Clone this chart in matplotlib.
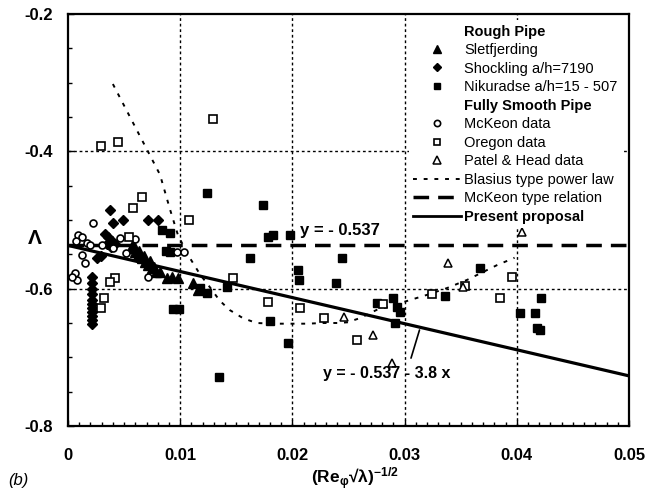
import matplotlib
matplotlib.use("Agg")
import matplotlib.pyplot as plt
from matplotlib.lines import Line2D
import numpy as np

plt.rcParams['font.family'] = ['Liberation Sans', 'DejaVu Sans']
plt.rcParams['mathtext.fontset'] = 'custom'
plt.rcParams['mathtext.rm'] = 'Liberation Sans:bold'
plt.rcParams['mathtext.it'] = 'Liberation Sans:bold'
plt.rcParams['mathtext.bf'] = 'Liberation Sans:bold'
plt.rcParams['mathtext.default'] = 'rm'

# ---------------- data ----------------
slet_x = [0.0057, 0.0060, 0.0062, 0.0066, 0.0069, 0.0071, 0.0075, 0.0078, 0.0082,
          0.0058, 0.0063, 0.0068, 0.0073, 0.0077, 0.0088, 0.0093, 0.0098, 0.0111, 0.0116]
slet_y = [-0.541, -0.547, -0.551, -0.555, -0.561, -0.565, -0.570, -0.576, -0.576,
          -0.535, -0.545, -0.552, -0.560, -0.568, -0.585, -0.583, -0.585, -0.592, -0.602]

shock_x = [0.0021] * 11 + [0.0037, 0.0040, 0.0049, 0.0071, 0.0080,
                           0.0033, 0.0036, 0.0039, 0.0042, 0.0038, 0.0035, 0.0026, 0.0029]
shock_y = [-0.583, -0.592, -0.600, -0.608, -0.616, -0.622, -0.628, -0.634, -0.640, -0.646, -0.652,
           -0.485, -0.504, -0.500, -0.500, -0.500,
           -0.520, -0.525, -0.530, -0.535, -0.540, -0.535, -0.555, -0.552]

niku_x = [0.0124, 0.0174, 0.0178, 0.0183, 0.0198, 0.0162, 0.0244, 0.0205, 0.0206, 0.0239,
          0.0142, 0.0124, 0.0118, 0.0180, 0.0196, 0.0135, 0.0275, 0.0290, 0.0293, 0.0296,
          0.0291, 0.0336, 0.0367, 0.0403, 0.0416, 0.0422, 0.0418, 0.0421, 0.0084, 0.0091,
          0.0087, 0.0091, 0.0094, 0.0099]
niku_y = [-0.461, -0.478, -0.525, -0.522, -0.522, -0.555, -0.555, -0.573, -0.587, -0.592,
          -0.597, -0.606, -0.599, -0.647, -0.679, -0.729, -0.621, -0.614, -0.627, -0.634,
          -0.650, -0.611, -0.570, -0.636, -0.636, -0.614, -0.657, -0.660, -0.515, -0.519,
          -0.545, -0.547, -0.630, -0.630]

mck_x = [0.0009, 0.00125, 0.0017, 0.0020, 0.00125, 0.0015, 0.0006, 0.0008, 0.0004, 0.0022,
         0.0046, 0.0040, 0.0052, 0.0030, 0.0071, 0.0097, 0.0103, 0.0060, 0.0007]
mck_y = [-0.522, -0.525, -0.534, -0.536, -0.551, -0.563, -0.577, -0.587, -0.583, -0.504,
         -0.526, -0.541, -0.548, -0.537, -0.583, -0.546, -0.546, -0.527, -0.530]

oreg_x = [0.0129, 0.0066, 0.0058, 0.0108, 0.0054, 0.0042, 0.0037, 0.0032, 0.0029, 0.0147,
          0.0178, 0.0207, 0.0228, 0.0258, 0.0324, 0.0354, 0.0385, 0.0396, 0.0281, 0.0029, 0.0045]
oreg_y = [-0.353, -0.466, -0.483, -0.500, -0.525, -0.584, -0.590, -0.614, -0.628, -0.585,
          -0.619, -0.628, -0.643, -0.675, -0.608, -0.596, -0.614, -0.583, -0.622, -0.392, -0.386]

patel_x = [0.0246, 0.0272, 0.0339, 0.0352, 0.0405, 0.0289]
patel_y = [-0.641, -0.667, -0.563, -0.597, -0.517, -0.708]

blas_x = [0.0040, 0.0082, 0.0091, 0.0098, 0.0107, 0.0118, 0.0127, 0.0135, 0.0144, 0.0156,
          0.0168, 0.0183, 0.0198, 0.0213, 0.0227, 0.0240, 0.0249, 0.0260, 0.0275, 0.0284,
          0.0300, 0.0320, 0.0338, 0.0356, 0.0382, 0.0398]
blas_y = [-0.302, -0.434, -0.485, -0.522, -0.551, -0.580, -0.599, -0.617, -0.631, -0.643,
          -0.650, -0.651, -0.651, -0.651, -0.650, -0.650, -0.649, -0.643, -0.631, -0.627,
          -0.619, -0.609, -0.599, -0.587, -0.566, -0.555]

lambda0 = -0.537
slope = -3.8
x_range = [0.0, 0.05]

# ---------------- figure ----------------
fig = plt.figure(figsize=(6.45, 4.93), dpi=100)
ax = fig.add_axes([68 / 645, 1 - 426 / 493, 561 / 645, 412 / 493])

ax.set_xlim(0, 0.05)
ax.set_ylim(-0.8, -0.2)

# grid
for gx in [0.01, 0.02, 0.03, 0.04]:
    ax.axvline(gx, color='black', lw=1.0, ls=(0, (2, 2)), zorder=1)
for gy in [-0.4, -0.6]:
    ax.axhline(gy, color='black', lw=1.0, ls=(0, (2, 2)), zorder=1)

# lines
xs = np.array(x_range)
ax.plot(xs, [lambda0, lambda0], color='black', lw=2.5, ls=(0, (4.5, 2.6)), zorder=2)
ax.plot(xs, lambda0 + slope * xs, color='black', lw=2.3, zorder=2)
ax.plot(blas_x, blas_y, color='black', lw=1.4, ls=(0, (2, 3.5)), zorder=2)

# markers
ax.plot(slet_x, slet_y, ls='none', marker='^', ms=6.5, color='black', zorder=3)
ax.plot(shock_x, shock_y, ls='none', marker='D', ms=5, color='black', zorder=3)
ax.plot(niku_x, niku_y, ls='none', marker='s', ms=5.5, color='black', zorder=3)
ax.plot(mck_x, mck_y, ls='none', marker='o', ms=5, mfc='white', mec='black', mew=1.2, zorder=3)
ax.plot(oreg_x, oreg_y, ls='none', marker='s', ms=5.5, mfc='white', mec='black', mew=1.2, zorder=3)
ax.plot(patel_x, patel_y, ls='none', marker='^', ms=6, mfc='white', mec='black', mew=1.1, zorder=3)

# annotations
ax.text(0.0207, -0.516, 'y = - 0.537', fontsize=12, fontweight='bold', va='center', ha='left', zorder=4)
ax.text(0.0227, -0.723, 'y = - 0.537 - 3.8 x', fontsize=11.5, fontweight='bold', va='center', ha='left', zorder=4)
ax.annotate('', xy=(0.0314, lambda0 + slope * 0.0314), xytext=(0.0305, -0.705),
            arrowprops=dict(arrowstyle='-', lw=1.2, color='black'))

# axes styling
for s in ax.spines.values():
    s.set_linewidth(1.6)
ax.set_xticks([0, 0.01, 0.02, 0.03, 0.04, 0.05])
ax.set_xticklabels(['0', '0.01', '0.02', '0.03', '0.04', '0.05'])
ax.set_yticks([-0.8, -0.6, -0.4, -0.2])
ax.set_yticklabels(['-0.8', '-0.6', '-0.4', '-0.2'])
ax.set_xticks(np.arange(0, 0.0501, 0.001), minor=True)
ax.set_yticks(np.arange(-0.8, -0.199, 0.05), minor=True)
ax.tick_params(which='both', direction='in', top=False, right=False, width=1.0)
ax.tick_params(which='major', length=4)
ax.tick_params(which='minor', length=3)
ax.tick_params(axis='x', which='major', pad=16, labelsize=12)
ax.tick_params(axis='y', which='major', pad=11, labelsize=12)
for lab in ax.get_xticklabels() + ax.get_yticklabels():
    lab.set_fontweight('bold')

fig.text(35 / 645, 1 - 238 / 493, 'Λ', fontsize=15, fontweight='bold', ha='center', va='center')
fig.text(355 / 645, 1 - 479 / 493, '(Re$_{φ}$√λ)$^{-1/2}$', fontsize=12.5, fontweight='bold',
         ha='center', va='center')
fig.text(8 / 645, 1 - 480 / 493, '(b)', fontsize=12, style='italic', ha='left', va='center')

# legend
empty = Line2D([], [], ls='none', marker='none')
handles = [
    empty,
    Line2D([], [], ls='none', marker='^', ms=6, color='black'),
    Line2D([], [], ls='none', marker='D', ms=4.5, color='black'),
    Line2D([], [], ls='none', marker='s', ms=5, color='black'),
    empty,
    Line2D([], [], ls='none', marker='o', ms=4.5, mfc='white', mec='black', mew=1.2),
    Line2D([], [], ls='none', marker='s', ms=5, mfc='white', mec='black', mew=1.2),
    Line2D([], [], ls='none', marker='^', ms=5.5, mfc='white', mec='black', mew=1.1),
    Line2D([], [], color='black', lw=1.4, ls=(0, (2, 3.5))),
    Line2D([], [], color='black', lw=2.5, ls=(0, (4.5, 2.6))),
    Line2D([], [], color='black', lw=2.0),
]
labels = ['Rough Pipe', 'Sletfjerding', 'Shockling a/h=7190', 'Nikuradse a/h=15 - 507',
          'Fully Smooth Pipe', 'McKeon data', 'Oregon data', 'Patel & Head data',
          'Blasius type power law', 'McKeon type relation', 'Present proposal']
leg = ax.legend(handles, labels, loc='upper right', bbox_to_anchor=(0.9875, 0.985),
                fontsize=10.5, frameon=True, fancybox=False, edgecolor='none',
                facecolor='white', framealpha=1.0, handlelength=3.3, handletextpad=0.2,
                labelspacing=0.31, borderpad=0.3, borderaxespad=0.0)
leg.set_zorder(5)
for i in (0, 4, 10):
    leg.get_texts()[i].set_fontweight('bold')

fig.savefig('out.png', dpi=100)
